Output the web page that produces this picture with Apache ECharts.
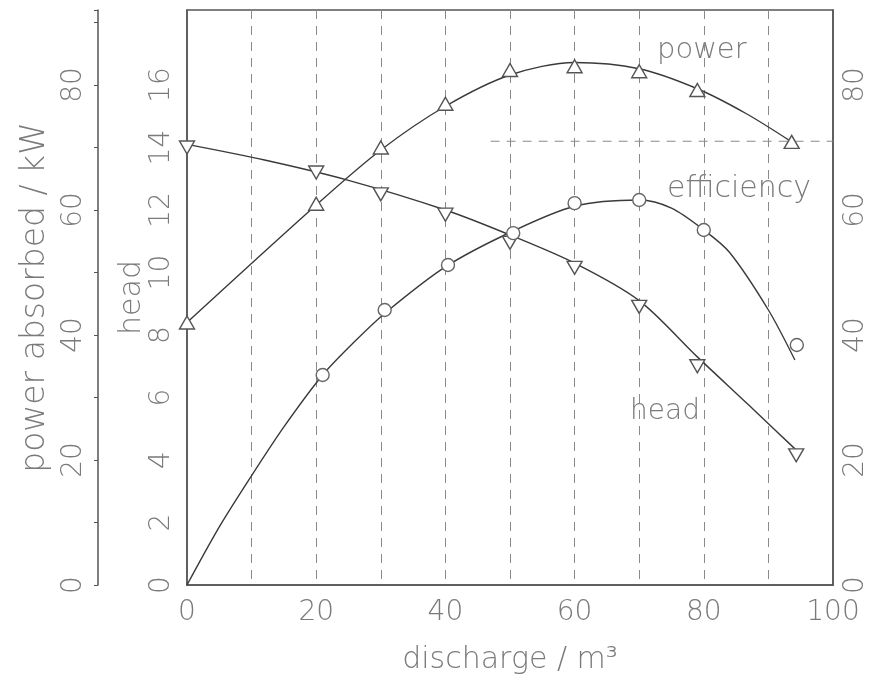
<!DOCTYPE html>
<html>
<head>
<meta charset="utf-8">
<script src="https://cdn.jsdelivr.net/npm/echarts@6/dist/echarts.min.js"></script>
<style>
html,body{margin:0;padding:0;background:#fff;}
#chart{width:876px;height:683px;}
</style>
</head>
<body>
<div id="chart"></div>
<script>
// ---- data ----
const xTickLabels = [0, 20, 40, 60, 80, 100];
const headTickLabels = [0, 2, 4, 6, 8, 10, 12, 14, 16];
const powerTickLabels = [0, 20, 40, 60, 80];
const effTickLabels = [0, 20, 40, 60, 80];

// measured points (markers)
const powerX = [0, 20, 30, 40, 50, 60, 70, 79, 93.6];
const powerVal = [42, 61, 70, 77, 82.4, 83, 82.2, 79.2, 70.9];
const headX = [0, 20, 30, 40, 50, 60, 70, 79, 94.3];
const headVal = [14.0, 13.2, 12.5, 11.85, 10.95, 10.15, 8.9, 7.0, 4.15];
const effX = [21, 30.6, 40.4, 50.5, 60, 70, 80, 94.4];
const effVal = [33.6, 44, 51.2, 56.3, 61.1, 61.6, 56.8, 38.4];

// fitted curves (traced)
const powerCurveX = [0, 20, 30, 40, 50, 60, 70, 79, 86.6, 93.6];
const powerCurveY = [42, 60.8, 69.6, 76.6, 81.6, 83.6, 82.6, 79.4, 75.4, 70.9];
const headCurveX = [0, 12, 25, 40, 50, 60, 70, 79, 87, 94.4];
const headCurveY = [14.1, 13.6, 12.95, 12.0, 11.2, 10.3, 9.1, 7.3, 5.75, 4.3];
const effCurveX = [0, 5, 10, 15, 21, 26, 31, 40, 50, 60, 70, 75, 80, 84, 90, 94.1];
const effCurveY = [0, 9.3, 17.5, 25.3, 33.6, 39, 43.8, 50.9, 56.4, 60.6, 61.6, 60.3, 56.8, 53.2, 44, 36];

// partial horizontal dashed grid line
const gridFragX = [47, 100];
const gridFragY = [14.2, 14.2];

const zip = (a, b) => a.map((v, i) => [v, b[i]]);

const FONT = '"DejaVu Sans", Verdana, sans-serif';
const TXT = '#7a7a7a';
const LINE = '#3a3a3a';
const AX = '#555';

const chart = echarts.init(document.getElementById('chart'), null, {renderer: 'canvas'});

const labelStyle = {color: TXT, fontFamily: FONT, fontWeight: 200, fontSize: 28};
const nameStyle = {color: TXT, fontFamily: FONT, fontWeight: 200, fontSize: 30};

const option = {
  backgroundColor: '#fff',
  animation: false,
  grid: {left: 187, right: 43, top: 10, bottom: 98, show: true, borderColor: AX, borderWidth: 1.5, backgroundColor: 'transparent'},
  xAxis: {
    type: 'value', min: 0, max: 100, interval: 10,
    name: 'discharge / m³', nameLocation: 'middle', nameGap: 60,
    nameTextStyle: nameStyle,
    axisLine: {show: true, lineStyle: {color: AX, width: 1.5}},
    axisTick: {show: false},
    axisLabel: Object.assign({}, labelStyle, {margin: 14,
      formatter: v => xTickLabels.includes(v) ? String(v) : ''}),
    splitLine: {show: true, lineStyle: {color: '#8a8a8a', width: 1, type: [9, 7]}}
  },
  yAxis: [
    { // head
      type: 'value', min: 0, max: 18.4, interval: 2, position: 'left',
      name: 'head', nameLocation: 'middle', nameGap: 40, nameMoveOverlap: false,
      nameTextStyle: nameStyle,
      axisLine: {show: true, lineStyle: {color: AX, width: 1.5}},
      axisTick: {show: false},
      axisLabel: Object.assign({}, labelStyle, {rotate: 90, margin: 11,
        formatter: v => headTickLabels.includes(v) ? String(v) : ''}),
      splitLine: {show: false}
    },
    { // power
      type: 'value', min: 0, max: 92, interval: 10, position: 'left', offset: 89,
      name: 'power absorbed / kW', nameLocation: 'middle', nameGap: 36,
      nameTextStyle: Object.assign({}, nameStyle, {fontSize: 33}),
      axisLine: {show: true, lineStyle: {color: AX, width: 1.5}},
      axisTick: {show: true, length: 4, lineStyle: {color: AX}},
      axisLabel: Object.assign({}, labelStyle, {rotate: 90, margin: 10,
        formatter: v => powerTickLabels.includes(v) ? String(v) : ''}),
      splitLine: {show: false}
    },
    { // efficiency
      type: 'value', min: 0, max: 92, interval: 20, position: 'right',
      axisLine: {show: true, lineStyle: {color: AX, width: 1.5}},
      axisTick: {show: false},
      axisLabel: Object.assign({}, labelStyle, {rotate: 90, margin: 9,
        formatter: v => effTickLabels.includes(v) ? String(v) : ''}),
      splitLine: {show: false}
    }
  ],
  series: [
    {type: 'line', yAxisIndex: 0, data: zip(gridFragX, gridFragY), symbol: 'none', silent: true,
     lineStyle: {color: '#8a8a8a', width: 1, type: [9, 7]}, z: 1},
    {type: 'line', yAxisIndex: 1, data: zip(powerCurveX, powerCurveY), smooth: 0.3, symbol: 'none',
     lineStyle: {color: LINE, width: 1.4}, z: 2},
    {type: 'line', yAxisIndex: 0, data: zip(headCurveX, headCurveY), smooth: 0.3, symbol: 'none',
     lineStyle: {color: LINE, width: 1.4}, z: 2},
    {type: 'line', yAxisIndex: 2, data: zip(effCurveX, effCurveY), smooth: 0.3, symbol: 'none',
     lineStyle: {color: LINE, width: 1.4}, z: 2},
    {type: 'scatter', yAxisIndex: 1, data: zip(powerX, powerVal), symbol: 'triangle', symbolSize: [15, 13],
     itemStyle: {color: '#fff', borderColor: '#555', borderWidth: 1.4, opacity: 1}, z: 5},
    {type: 'scatter', yAxisIndex: 0, data: zip(headX, headVal), symbol: 'triangle', symbolSize: [15, 13], symbolRotate: 180,
     itemStyle: {color: '#fff', borderColor: '#555', borderWidth: 1.4, opacity: 1}, z: 5},
    {type: 'scatter', yAxisIndex: 2, data: zip(effX, effVal), symbol: 'circle', symbolSize: 13,
     itemStyle: {color: '#fff', borderColor: '#666', borderWidth: 1.4, opacity: 1}, z: 5}
  ],
  graphic: [
    {type: 'text', left: 657, top: 36, style: {text: 'power', fill: TXT, font: '200 29px ' + FONT}},
    {type: 'text', left: 667, top: 174, style: {text: 'efficiency', fill: TXT, font: '200 30px ' + FONT}},
    {type: 'text', left: 630, top: 398, style: {text: 'head', fill: TXT, font: '200 28px ' + FONT}}
  ]
};
chart.setOption(option);
</script>
</body>
</html>
